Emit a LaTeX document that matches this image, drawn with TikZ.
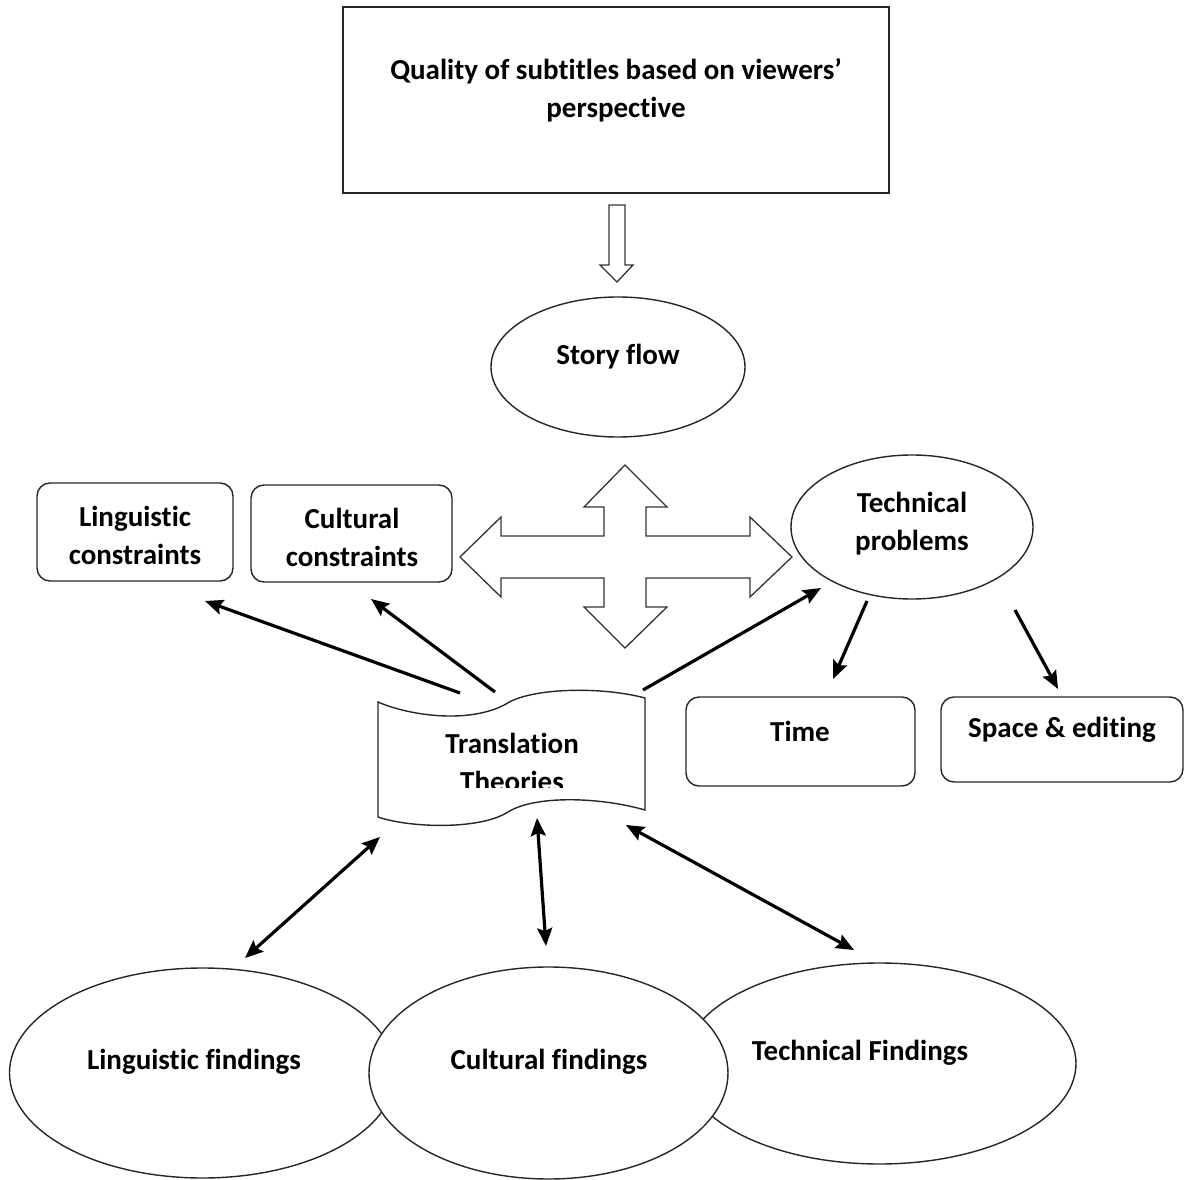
\documentclass[tikz,border=0pt]{standalone}
\usepackage{fontspec}
\setmainfont{Carlito}[Ligatures=CommonOff]
\usetikzlibrary{shapes.geometric,arrows.meta,calc}
\begin{document}
\begin{tikzpicture}[x=1pt,y=-1pt,
  font=\fontsize{29}{38}\selectfont\bfseries,
  outline/.style={draw=black!85, line width=1.4pt},
  squarebox/.style={outline, fill=white, inner sep=0pt},
  roundbox/.style={outline, fill=white, rounded corners=13pt, inner sep=0pt},
  oval/.style={outline, ellipse, fill=white, inner sep=0pt},
  caption/.style={align=center, inner sep=0pt},
  link/.style={line width=3.2pt, -{Stealth[length=18pt,width=15pt,inset=3pt]}},
  twoway/.style={line width=3.2pt, {Stealth[length=18pt,width=15pt,inset=3pt]}-{Stealth[length=18pt,width=15pt,inset=3pt]}},
  blockarrow/.style={draw=black!80, line width=1.3pt, fill=white, line join=miter}]

\useasboundingbox (0,0) rectangle (1195,1180);

% title box and down arrow
\node[squarebox, minimum width=546pt, minimum height=186pt] (quality) at (616,100) {};
\node[caption] (qualitytext) at (616,90) {Quality of subtitles based on viewers'\\perspective};
\draw[blockarrow] (609,205) -- (625,205) -- (625,265) -- (633,265) -- (617,282)
  -- (600,265) -- (609,265) -- cycle;

% story flow
\node[oval, minimum width=254pt, minimum height=140pt] (story) at (618,367) {};
\node[caption] (storytext) at (618,357) {Story flow};

% four-way block arrow
\draw[blockarrow] (460,557) -- (501,517) -- (501,536) -- (604,536) -- (604,507) -- (584,507)
  -- (625,465) -- (667,507) -- (646,507) -- (646,536) -- (750,536) -- (750,517)
  -- (792,557) -- (750,597) -- (750,578) -- (646,578) -- (646,607) -- (667,607)
  -- (625,648) -- (584,607) -- (604,607) -- (604,578) -- (501,578) -- (501,597) -- cycle;

% constraint boxes
\node[roundbox, minimum width=196pt, minimum height=98pt] (ling) at (135,532) {};
\node[caption] (lingtext) at (135,535) {Linguistic\\constraints};
\node[roundbox, minimum width=201pt, minimum height=97pt] (cult) at (351.5,533.5) {};
\node[caption] (culttext) at (352,537) {Cultural\\constraints};

% technical problems and its branches
\node[oval, minimum width=242pt, minimum height=144pt] (tech) at (912,527) {};
\node[caption] (techtext) at (912,524) {Technical\\problems};
\node[roundbox, minimum width=229pt, minimum height=89pt] (time) at (800.5,741.5) {};
\node[caption] (timetext) at (800,731) {Time};
\node[roundbox, minimum width=242pt, minimum height=85pt] (space) at (1062,739.5) {};
\node[caption] (spacetext) at (1062,730) {Space \& editing};

% translation theories (punched tape)
\coordinate (tt) at (511,757);
\draw[outline, fill=white] (378,702) .. controls (410,716) and (470,724) .. (506,704)
  .. controls (530,688) and (600,686) .. (645,698) -- (645,810)
  .. controls (600,797) and (535,795) .. (508,812)
  .. controls (480,830) and (410,828) .. (378,817) -- cycle;
\begin{scope}
  \clip (370,680) rectangle (650,787);
  \node[caption] (tttext) at (512,762) {Translation\\Theories};
\end{scope}

% findings
\node[oval, minimum width=386pt, minimum height=210pt] (lingfind) at (202.5,1073) {};
\node[oval, minimum width=393pt, minimum height=201pt] (techfind) at (879.5,1063.5) {};
\node[oval, minimum width=359pt, minimum height=212pt] (cultfind) at (548.5,1073) {};
\node[caption] (lingfindtext) at (194,1062) {Linguistic findings};
\node[caption] (cultfindtext) at (549,1062) {Cultural findings};
\node[caption] (techfindtext) at (860,1053) {Technical Findings};

% connector end points
\coordinate (tt-l) at (460,693);
\coordinate (tt-c) at (495,692);
\coordinate (tt-r) at (643,690);
\coordinate (ling-in) at (205,601);
\coordinate (cult-in) at (371,599);
\coordinate (tech-in) at (821,588);
\coordinate (tech-a) at (867,601);
\coordinate (tech-b) at (1015,610);
\coordinate (time-in) at (833,679);
\coordinate (space-in) at (1058,689);
\coordinate (tt-bl) at (380,837);
\coordinate (tt-bc) at (537,818);
\coordinate (tt-br) at (626,825);
\coordinate (lingfind-top) at (245,958);
\coordinate (cultfind-top) at (546,946);
\coordinate (techfind-top) at (854,950);

\draw[link] (tt-l) -- (ling-in);
\draw[link] (tt-c) -- (cult-in);
\draw[link] (tt-r) -- (tech-in);
\draw[link] (tech-a) -- (time-in);
\draw[link] (tech-b) -- (space-in);
\draw[twoway] (lingfind-top) -- (tt-bl);
\draw[twoway] (cultfind-top) -- (tt-bc);
\draw[twoway] (techfind-top) -- (tt-br);
\end{tikzpicture}
\end{document}
